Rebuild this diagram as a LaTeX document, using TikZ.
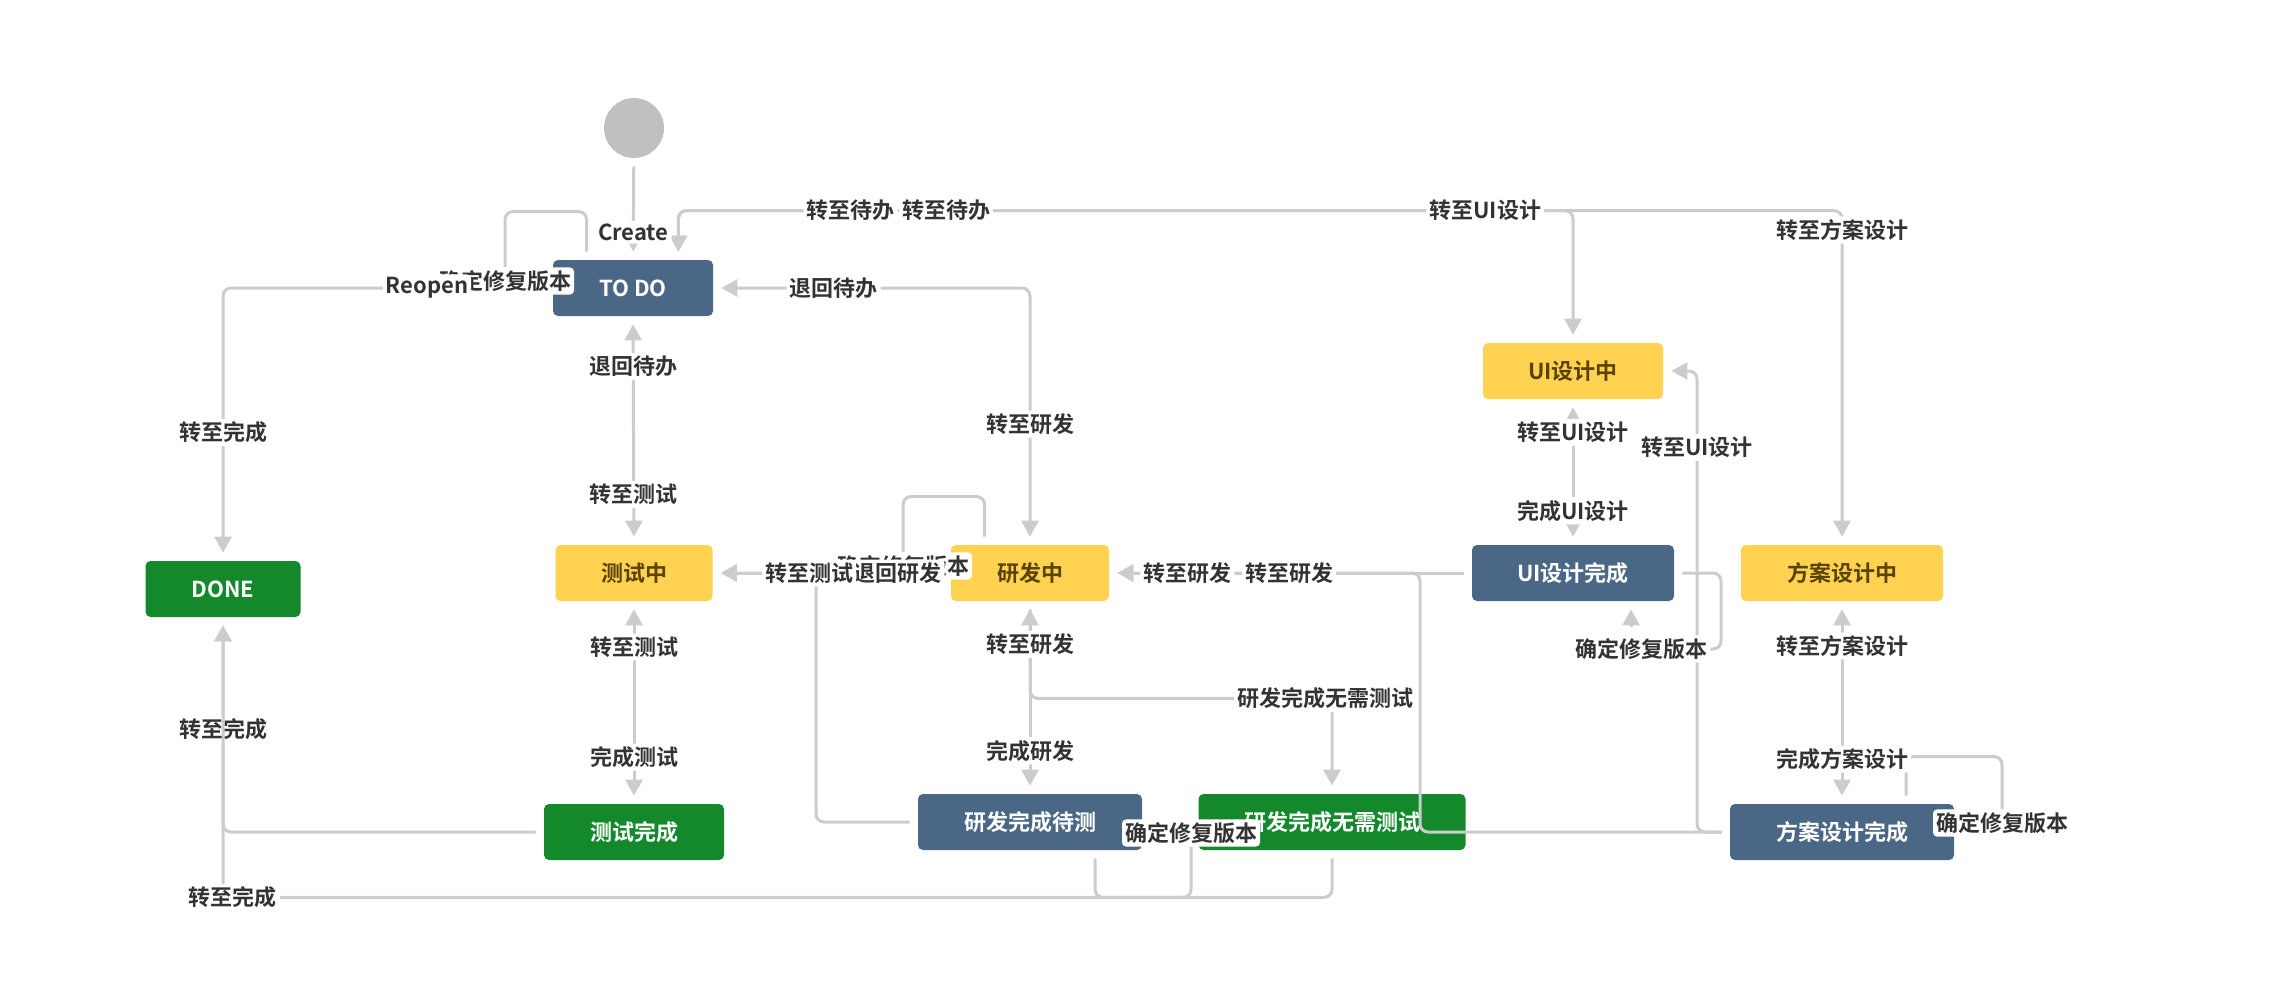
\documentclass[tikz,border=0pt]{standalone}
\usepackage{fontspec}
\setmainfont{Noto Sans CJK SC}[BoldFont={Noto Sans CJK SC Bold}]
\usetikzlibrary{arrows.meta}

\definecolor{linegray}{HTML}{CCCCCC}
\definecolor{labeltext}{HTML}{333333}
\definecolor{jirablue}{HTML}{4A6785}
\definecolor{jiragreen}{HTML}{14892C}
\definecolor{jirayellow}{HTML}{FFD351}
\definecolor{yellowtext}{HTML}{594300}
\definecolor{startgray}{HTML}{C0C0C0}

\begin{document}
\begin{tikzpicture}[x=0.5pt,y=-0.5pt,
    state/.style={rounded corners=2.5pt, minimum height=28pt, inner sep=0pt,
      font=\bfseries\fontsize{11}{13}\selectfont},
    bluestate/.style={state, fill=jirablue, text=white},
    greenstate/.style={state, fill=jiragreen, text=white},
    yellowstate/.style={state, fill=jirayellow, text=yellowtext},
    startc/.style={circle, fill=startgray, minimum size=30pt, inner sep=0pt},
    flow/.style={draw=linegray, line width=1.5pt, rounded corners=4pt,
      shorten >=4pt, shorten <=4pt, >={Triangle[width=8.5pt,length=8pt]}},
    fixloop/.style={flow, shorten >=0pt},
    lbl/.style={fill=white, rounded corners=2pt, inner sep=1.5pt, text=labeltext,
      font=\bfseries\fontsize{11}{13}\selectfont}]
  \useasboundingbox (0,0) rectangle (2286,1002);

  \node[startc] (start) at (634,128) {};
  \node[bluestate, minimum width=80pt] (todo) at (633,288) {TO DO};
  \node[greenstate, minimum width=77.5pt] (done) at (223,589) {DONE};
  \node[yellowstate, minimum width=78.5pt] (test) at (634,573) {测试中};
  \node[greenstate, minimum width=90pt] (testdone) at (634,832) {测试完成};
  \node[yellowstate, minimum width=79pt] (dev) at (1030,573) {研发中};
  \node[bluestate, minimum width=112pt] (devwait) at (1030,822) {研发完成待测};
  \node[greenstate, minimum width=133.5pt] (devnotest) at (1332,822) {研发完成无需测试};
  \node[yellowstate, minimum width=90pt] (ui) at (1573,371) {UI设计中};
  \node[bluestate, minimum width=101pt] (uidone) at (1573,573) {UI设计完成};
  \node[yellowstate, minimum width=101pt] (plan) at (1842,573) {方案设计中};
  \node[bluestate, minimum width=112pt] (plandone) at (1842,832) {方案设计完成};

  % top line
  \draw[flow,<->] ([xshift=-17.5pt]todo.north east) -- ++(0,-49) -| (ui.north);
  \draw[flow,<->] ([xshift=-17.5pt]todo.north east) -- ++(0,-49) -| (plan.north)
    node[lbl,pos=0.074] {转至待办} node[lbl,pos=0.115] {转至待办}
    node[lbl,pos=0.3467] {转至UI设计} node[lbl,pos=0.529] {转至方案设计};
  \draw[flow,->] (start) -- (todo) node[lbl,pos=0.73] {Create};

  \draw[flow,->] (todo.west) -| (done.north) node[lbl,pos=0.765] {转至完成};
  \node[lbl] (tdfix) at (505,281) {确定修复版本};
  \draw[fixloop] ([xshift=17pt]todo.north west) -- ++(0,-48) -| (tdfix.north);
  \node[lbl] (reopen) at (427,288) {Reopen};

  \draw[flow,<->] (todo.south) -- (test.north)
    node[lbl,pos=0.22] {退回待办} node[lbl,pos=0.78] {转至测试};
  \draw[flow,<->] (todo.east) -| (dev.north)
    node[lbl,pos=0.19] {退回待办} node[lbl,pos=0.765] {转至研发};
  \draw[flow,<->] (test.south) -- (testdone.north)
    node[lbl,pos=0.225] {转至测试} node[lbl,pos=0.77] {完成测试};
  \draw[flow,->] (testdone.west) -| (done.south) node[lbl,pos=0.74] {转至完成};
  \draw[flow,->] (devnotest.south) -- ++(0,47) -| (done.south)
    node[lbl,pos=0.4955] {转至完成};

  \node[lbl] (devfix) at (903,566) {确定修复版本};
  \draw[fixloop] ([xshift=17pt]dev.north west) -- ++(0,-48) -| (devfix.north);
  \draw[flow,->] (dev.west) -- (test.east) node[lbl,pos=0.223] {退回研发};
  \coordinate (tstj) at (816,573);
  \draw[flow,->] (devwait.west) -| (tstj) node[lbl,pos=1,xshift=-3.5pt] {转至测试}
    -- (test.east);

  \draw[flow,->] (dev.south) -- ++(0,97) -| (devnotest.north)
    node[lbl,pos=0.5,xshift=-3.5pt] {研发完成无需测试};
  \draw[flow,<->] (dev.south) -- (devwait.north)
    node[lbl,pos=0.223] {转至研发} node[lbl,pos=0.777] {完成研发};
  \node[lbl] (devfix2) at (1191,833) {确定修复版本};
  \draw[fixloop] ([xshift=32.5pt]devwait.south) -- ++(0,47) -| (devfix2.south);

  \coordinate (devj) at (1420,573);
  \draw[flow,->] (plandone.west) -| (devj) -- (dev.east);
  \draw[flow,->] (uidone.west) -- (dev.east)
    node[lbl,pos=0.504] {转至研发} node[lbl,pos=0.785] {转至研发};

  \coordinate (uij) at (1697,371);
  \draw[flow,->] (plandone.west) -| (uij) node[lbl,pos=0.917] {转至UI设计} -- (ui.east);
  \draw[flow,<->] (ui.south) -- (uidone.north)
    node[lbl,pos=0.226] {转至UI设计} node[lbl,pos=0.767] {完成UI设计};
  \node[lbl] (uifix) at (1641,649) {确定修复版本};
  \coordinate (uic) at (1721,649);
  \draw[fixloop] (uidone.east) -| (uic) -- (uifix.east);
  \draw[flow,->] ([xshift=-5pt]uifix.north) -- ([xshift=-5pt]uifix.north |- uidone.south);

  \node[lbl] (planfix) at (2002,823) {确定修复版本};
  \draw[fixloop] ([xshift=32pt]plandone.north) -- ++(0,-47) -| (planfix.north);
  \draw[flow,<->] (plan.south) -- (plandone.north)
    node[lbl,pos=0.22] {转至方案设计} node[lbl,pos=0.78] {完成方案设计};
\end{tikzpicture}
\end{document}
